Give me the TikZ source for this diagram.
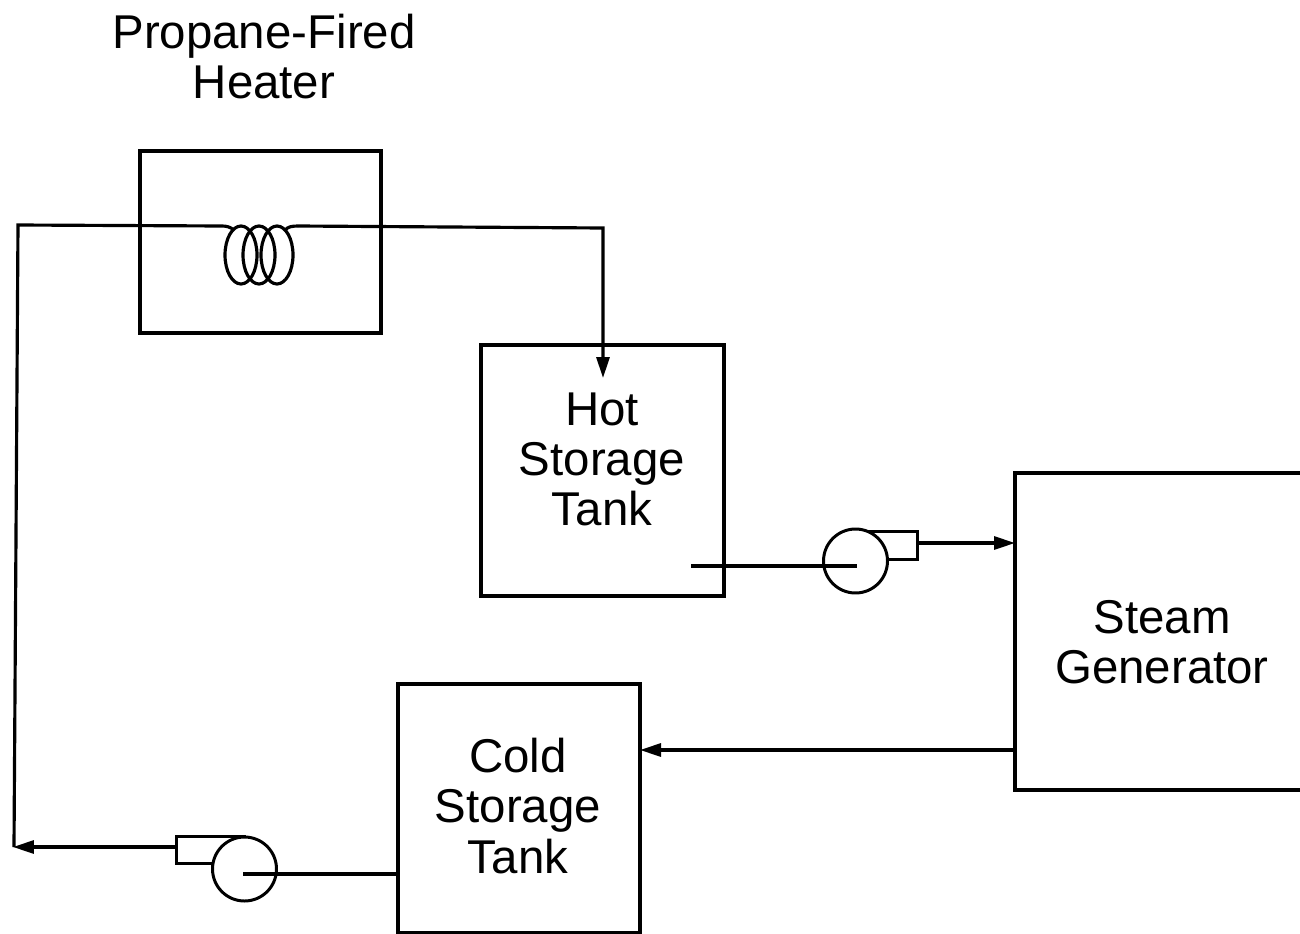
\documentclass[tikz,border=0pt]{standalone}
\usepackage{fontspec}
\setmainfont{Liberation Sans}
\usetikzlibrary{arrows.meta}
\tikzset{
    vessel/.style={draw, line width=1.8pt, inner sep=0pt},
    pumpbody/.style={draw, circle, fill=white, line width=1.7pt, minimum size=1.28cm, inner sep=0pt},
    outlet/.style={draw, line width=1.7pt, inner sep=0pt},
    wire/.style={line width=1.8pt},
    flow/.style={line width=1.8pt, -{Triangle[length=0.42cm, width=0.26cm]}},
    caption/.style={align=center, font=\fontsize{27}{28.5}\selectfont}
}
\begin{document}
\begin{tikzpicture}[x=0.02cm, y=-0.02cm]
    \useasboundingbox (0,0) rectangle (1300,933);

    % Heater
    \node[caption] (heaterlabel) at (264,57) {Propane-Fired\\Heater};
    \node[vessel, minimum width=4.82cm, minimum height=3.64cm] (heater) at (260.5,242) {};

    % Tanks and steam generator
    \node[vessel, minimum width=4.86cm, minimum height=5.02cm] (hot) at (602.5,470.5) {};
    \node[caption] (hotlabel) at (602,459) {Hot\\Storage\\Tank};
    \node[vessel, minimum width=4.84cm, minimum height=4.98cm] (cold) at (519,808.5) {};
    \node[caption] (coldlabel) at (518,806) {Cold\\Storage\\Tank};
    \node[vessel, minimum width=5.84cm, minimum height=6.34cm] (steam) at (1161,631.5) {};
    \node[caption] (steamlabel) at (1162,642) {Steam\\Generator};

    % Pumps
    \node[outlet, minimum width=1.04cm, minimum height=0.56cm] (outleta) at (891,545) {};
    \node[pumpbody] (pumpa) at (855.5,561) {};
    \node[outlet, minimum width=1.38cm, minimum height=0.54cm] (outletb) at (210.5,849.5) {};
    \node[pumpbody] (pumpb) at (244.5,869) {};

    % Coil
    \foreach \c in {241,259,277} \draw[wire] (\c,255) ellipse (0.32cm and 0.58cm);

    \coordinate (corner) at (18,225); \coordinate (coilin) at (222,226); \coordinate (coilout) at (298,226);
    \coordinate (coilleft) at (234,230); \coordinate (coilright) at (285,230);
    \coordinate (feed) at (603,228); \coordinate (hotin) at (603,378);
    \coordinate (hotout) at (691,566); \coordinate (pumpain) at (857,566);
    \coordinate (pumpaout) at (917,543); \coordinate (steamin) at (1015,543);
    \coordinate (steamout) at (1015,750); \coordinate (coldin) at (640,750);
    \coordinate (coldout) at (398,874); \coordinate (pumpbin) at (243,874);
    \coordinate (pumpbout) at (176,847); \coordinate (returnend) at (13,847);
    \coordinate (returnbot) at (14,847);

    % Piping
    \draw[wire] (returnbot) -- (corner) -- (coilin) .. controls (227,226) and (230,227) .. (coilleft);
    \draw[wire] (coilright) .. controls (288,227) and (291,226) .. (coilout);
    \draw[flow] (coilout) -- (feed) -- (hotin);
    \draw[wire] (hotout) -- (pumpain);
    \draw[flow] (pumpaout) -- (steamin);
    \draw[flow] (steamout) -- (coldin);
    \draw[wire] (coldout) -- (pumpbin);
    \draw[flow] (pumpbout) -- (returnend);
\end{tikzpicture}
\end{document}
